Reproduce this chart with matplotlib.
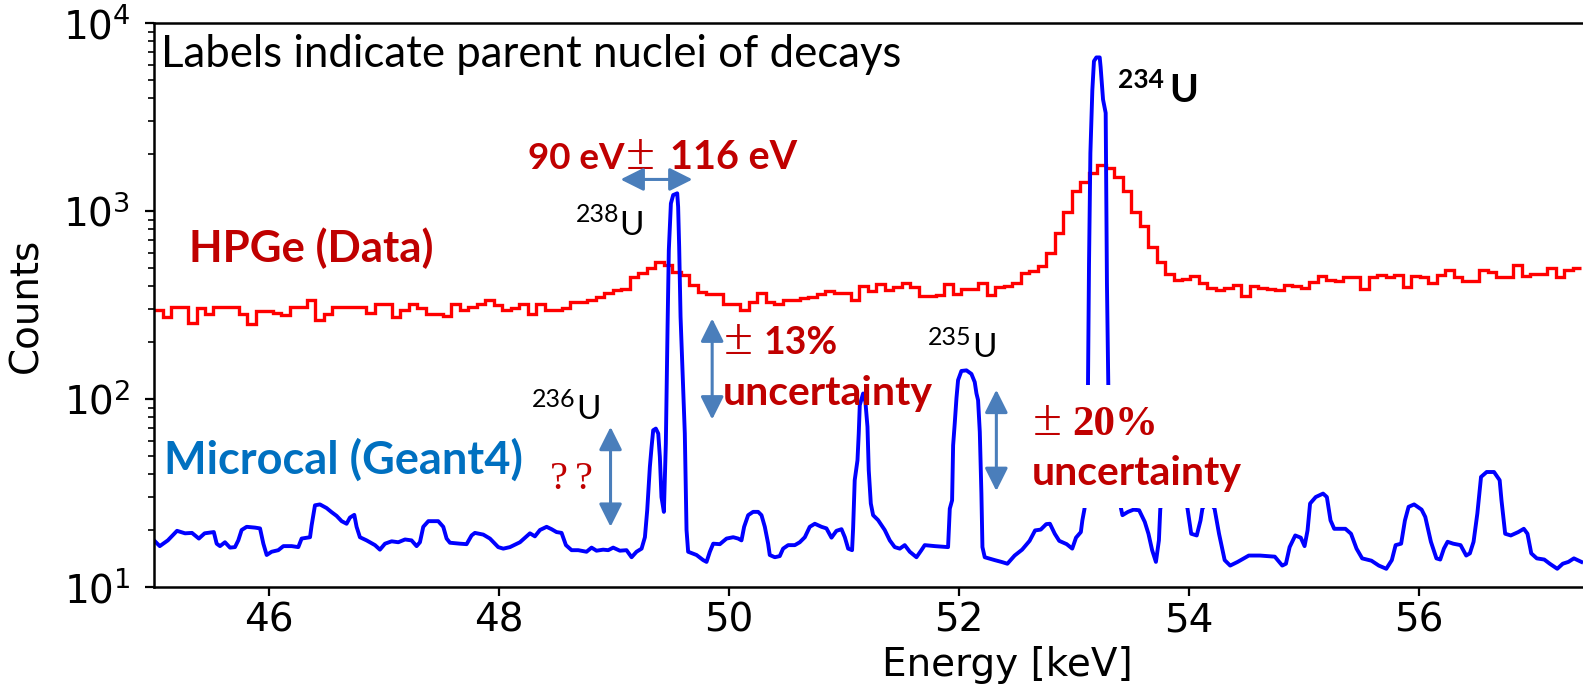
import numpy as np
import matplotlib
matplotlib.use("Agg")
import matplotlib.pyplot as plt
from matplotlib.patches import Rectangle

# HPGe data: step histogram, ~0.074 keV bins starting at 45 keV
hpge_start = 45.0
hpge_width = 0.0739
hpge_counts = [
    297, 272, 309, 309, 254, 303, 283, 307, 307, 309, 283, 250, 294, 294, 287, 279, 307,
    307, 338, 263, 283, 307, 307, 307, 309, 285, 322, 322, 274, 299, 322, 303, 283, 283,
    276, 320, 297, 309, 320, 338, 316, 299, 303, 320, 283, 320, 299, 299, 303, 329, 329,
    336, 350, 367, 379, 387, 447, 466, 495, 537, 515, 475, 456, 403, 369, 364, 364, 320,
    320,
    297, 329, 367, 329, 322, 336, 336, 343, 350, 364, 376, 367, 367, 336, 398, 376, 408,
    379, 395, 412, 395, 352, 352, 357, 408, 364, 387, 387, 412, 357, 392, 398, 412, 466, 480,
    509, 600, 766, 982, 1270, 1429, 1591, 1749, 1684, 1519, 1270, 982, 833, 644, 533, 464,
    428, 436, 449, 412, 390, 379, 390, 403, 355, 397, 390, 385, 379, 403, 397, 390, 417, 449,
    430, 425, 443, 443, 387, 447, 456, 443, 456, 395, 450, 443, 415, 456, 485, 443, 425,
    425, 485, 474, 443, 443, 515, 450, 461, 461, 495, 443, 485, 495,
]

# Microcal (Geant4) simulated spectrum
mc_energy = [
    45.00, 45.05, 45.12, 45.20, 45.27, 45.33, 45.39, 45.44, 45.52, 45.545, 45.574, 45.617,
    45.661, 45.704, 45.733, 45.762, 45.806, 45.878, 45.922, 45.951, 45.98, 46.023, 46.081,
    46.125, 46.197, 46.255, 46.284, 46.357, 46.371, 46.40, 46.443, 46.501, 46.545, 46.588,
    46.632, 46.675, 46.704, 46.742, 46.762, 46.791, 46.849, 46.922, 46.965, 47.009, 47.067,
    47.125, 47.183, 47.24, 47.284, 47.313, 47.342, 47.386, 47.472, 47.516, 47.545, 47.574,
    47.661, 47.719, 47.762, 47.791, 47.864, 47.922, 47.994, 48.038, 48.096, 48.183, 48.27,
    48.313, 48.357, 48.415, 48.458, 48.501, 48.545, 48.583, 48.632, 48.69, 48.762, 48.806,
    48.849, 48.907, 48.951, 48.994, 49.052, 49.11, 49.154, 49.197, 49.241, 49.27, 49.29,
    49.313, 49.328, 49.342, 49.365, 49.386, 49.40, 49.414, 49.435, 49.452, 49.467, 49.478,
    49.496, 49.516, 49.551, 49.559, 49.568, 49.58, 49.617, 49.632, 49.646, 49.719, 49.777,
    49.806, 49.835, 49.864, 49.922, 49.98, 50.038, 50.081, 50.11, 50.133, 50.168, 50.211,
    50.255, 50.284, 50.313, 50.342, 50.356, 50.40, 50.443, 50.472, 50.516, 50.574, 50.617,
    50.661, 50.704, 50.748, 50.806, 50.849, 50.893, 50.936, 50.98, 51.009, 51.038, 51.072,
    51.081, 51.095, 51.119, 51.13, 51.139, 51.168, 51.188, 51.206, 51.217, 51.235, 51.255,
    51.298, 51.356, 51.40, 51.443, 51.487, 51.53, 51.574, 51.632, 51.675, 51.704, 51.791,
    51.907, 51.922, 51.942, 51.951, 51.965, 51.98, 51.994, 52.023, 52.067, 52.11, 52.139,
    52.154, 52.168, 52.183, 52.197, 52.206, 52.226, 52.313, 52.371, 52.423, 52.486, 52.551,
    52.616, 52.664, 52.713, 52.761, 52.793, 52.835, 52.874, 52.939, 52.987, 53.02, 53.062,
    53.075, 53.094, 53.11, 53.124, 53.133, 53.145, 53.162, 53.176, 53.197, 53.226, 53.234,
    53.255, 53.278, 53.289, 53.301, 53.33, 53.39, 53.424, 53.472, 53.521, 53.569, 53.618,
    53.65, 53.682, 53.715, 53.741, 53.753, 53.80, 53.88, 53.96, 53.99, 54.022, 54.07,
    54.103, 54.119, 54.17, 54.225, 54.264, 54.313, 54.361, 54.426, 54.523, 54.62, 54.749,
    54.814, 54.846, 54.878, 54.927, 54.975, 55.008, 55.034, 55.056, 55.105, 55.169, 55.202,
    55.234, 55.266, 55.363, 55.412, 55.46, 55.509, 55.59, 55.654, 55.719, 55.767, 55.80,
    55.848, 55.881, 55.913, 55.961, 56.026, 56.058, 56.107, 56.155, 56.188, 56.22, 56.252,
    56.301, 56.365, 56.414, 56.446, 56.478, 56.511, 56.543, 56.592, 56.656, 56.705, 56.721,
    56.753, 56.802, 56.867, 56.915, 56.947, 56.98, 57.028, 57.093, 57.141, 57.206, 57.254,
    57.303, 57.351, 57.416,
]
mc_counts = [
    17.7, 16.5, 17.7, 19.9, 19.3, 19.4, 18.1, 19.3, 19.6, 17.0, 16.5, 17.3,
    16.2, 16.3, 17.7, 20.1, 20.9, 20.7, 20.5, 17.0, 14.8, 15.4, 15.7,
    16.5, 16.5, 16.3, 18.1, 18.4, 21.3, 27.2, 27.5, 26.3, 25.0, 23.9,
    22.4, 21.7, 23.4, 24.2, 20.9, 18.4, 17.7, 16.7, 15.8, 17.0, 17.5,
    17.3, 17.9, 17.7, 16.5, 17.3, 20.9, 22.4, 22.4, 20.9, 18.1, 17.2,
    17.0, 16.9, 18.8, 19.4, 19.0, 18.1, 16.3, 16.0, 16.3, 17.3, 19.3,
    18.6, 20.1, 20.9, 20.3, 19.6, 19.4, 16.7, 15.7, 15.7, 15.4, 16.2,
    15.6, 15.8, 15.7, 16.2, 15.6, 15.7, 14.4, 15.4, 16.0, 18.4, 25.6,
    43.5, 55.6, 68.2, 69.6, 65.5, 49.2, 30.1, 25.1, 57.9, 242, 620,
    1097, 1216, 1242, 1052, 645, 274, 65.5, 20.1, 15.4, 14.8, 13.9,
    13.6, 15.4, 17.0, 16.9, 18.1, 18.4, 18.1, 17.7, 20.9, 24.1, 25.1,
    25.1, 24.1, 20.9, 17.0, 14.8, 14.4, 14.6, 16.0, 16.7, 16.7, 17.3,
    18.4, 20.9, 21.7, 20.9, 20.5, 18.3, 19.9, 20.3, 18.4, 16.0, 15.7,
    20.5, 37.0, 47.2, 65.5, 92.7, 107, 96.6, 71.1, 41.8, 27.8, 24.1,
    22.7, 20.1, 17.7, 16.3, 16.0, 16.7, 15.4, 14.4, 15.7, 16.7, 16.5,
    16.3, 26.1, 28.9, 56.7, 74.1, 101, 126, 141, 142, 136, 123,
    107, 98.6, 66.8, 31.4, 16.3, 14.4, 13.9, 13.6, 13.3, 14.7, 15.8,
    17.6, 20.0, 20.2, 21.6, 21.7, 19.2, 17.6, 16.9, 16.0, 18.3, 19.6,
    22.6, 26.1, 60, 116, 521, 2031, 4406, 6266, 6560, 6560, 5836,
    3917, 3323, 412, 116, 45, 30, 24.1, 25.1, 25.8, 25.6, 22.2,
    19.2, 15.7, 13.6, 17.7, 26.1, 32, 35, 30, 26.1, 19.2, 18.8,
    22.6, 26.1, 29, 26.1, 19.2, 13.9, 13.0, 13.6, 14.7, 14.7, 14.5,
    13.0, 13.3, 16.3, 18.8, 18.3, 16.5, 20.0, 27.8, 30.1, 31.4, 30.1,
    22.6, 20.4, 20.4, 19.2, 16.0, 14.2, 13.8, 13.0, 12.5, 13.9, 16.7,
    17.0, 22.6, 26.7, 27.5, 25.8, 23.6, 17.4, 14.2, 14.0, 16.0, 17.4,
    17.0, 16.7, 14.7, 15.1, 17.4, 24.6, 38.5, 40.9, 40.9, 37.0, 28.9,
    19.2, 18.8, 19.6, 20.4, 19.2, 15.1, 14.2, 14.0, 13.3, 12.5, 13.3,
    13.6, 14.2, 13.6,
]

DARKRED = "#C00000"
ARROW = "#4A7EBB"
LABEL_FONT = "Lato"

plt.rcParams["font.family"] = "DejaVu Sans"

fig = plt.figure(figsize=(15.83, 6.91), dpi=100)
ax = fig.add_axes([0.0973, 0.1505, 0.9027, 0.8162])

edges = hpge_start + hpge_width * np.arange(len(hpge_counts) + 1)
ax.stairs(hpge_counts, edges, baseline=None, color="red", lw=2.4, zorder=2)
ax.plot(mc_energy, mc_counts, color="blue", lw=2.8, zorder=2)

ax.set_yscale("log")
ax.set_xlim(45, 57.43)
ax.set_ylim(10, 1e4)
ax.set_xticks([46, 48, 50, 52, 54, 56])
ax.spines["right"].set_visible(False)
for s in ["left", "bottom", "top"]:
    ax.spines[s].set_linewidth(1.8)
ax.tick_params(which="major", length=6.5, width=1.6, labelsize=28, pad=4)
ax.tick_params(which="minor", length=4, width=1.2)
ax.tick_params(axis="y", which="major", pad=10.5)
ax.tick_params(axis="x", which="both", top=False)

ax.set_xlabel("Energy [keV]", fontsize=28)
ax.set_ylabel("Counts", fontsize=28)
ax.xaxis.set_label_coords(0.597, -0.105)
ax.yaxis.set_label_coords(-0.076, 0.5)

# white box behind the "20% uncertainty" note (hides part of the blue curve)
ax.add_patch(Rectangle((0.6116, 0.1401), 0.1456, 0.2181, transform=ax.transAxes,
                       facecolor="white", edgecolor="none", zorder=3))

txt = dict(family=LABEL_FONT, zorder=4, va="baseline", ha="left")
serif = dict(family="Liberation Serif", zorder=4, va="baseline", ha="left",
             color=DARKRED)

ax.text(45.065, 5860, "Labels indicate parent nuclei of decays", fontsize=31.5,
        color="black", **txt)
ax.text(45.30, 537, "HPGe (Data)", fontsize=31.5, weight="bold", color=DARKRED, **txt)
ax.text(45.083, 40.1, "Microcal (Geant4)", fontsize=32.5, weight="bold",
        color="#0070C0", **txt)

# resolution note
ax.text(48.25, 1679, "90 eV", fontsize=26.5, weight="bold", color=DARKRED, **txt)
ax.text(49.104, 1679, "±", fontsize=38, **serif)
ax.text(49.49, 1679, "116 eV", fontsize=28.5, weight="bold", color=DARKRED, **txt)

# uncertainty notes
ax.text(49.957, 173, "±", fontsize=38, **serif)
ax.text(50.298, 173, "13%", fontsize=27, weight="bold", color=DARKRED, **txt)
ax.text(49.946, 92.7, "uncertainty", fontsize=29.5, weight="bold", color=DARKRED, **txt)
ax.text(52.641, 64.2, "±", fontsize=38, **serif)
ax.text(52.987, 64.2, "20%", fontsize=31, weight="bold", **serif)
ax.text(52.632, 34.8, "uncertainty", fontsize=29.5, weight="bold", color=DARKRED, **txt)
ax.text(48.44, 33.4, "?", fontsize=29, **serif)
ax.text(48.66, 33.4, "?", fontsize=29, **serif)

# isotope labels
iso = [("238", 48.67, 873, 49.05, 745, "normal", 18, 24),
       ("236", 48.29, 90.8, 48.676, 78.7, "normal", 18, 24),
       ("235", 51.733, 193, 52.116, 167.5, "normal", 18, 24),
       ("234", 53.386, 4493, 53.829, 3810, "bold", 19, 28)]
for mass, xm, ym, xu, yu, w, fs_m, fs_u in iso:
    ax.text(xm, ym, mass, fontsize=fs_m, weight=w, color="black", **txt)
    ax.text(xu, yu, "U", fontsize=fs_u, weight=w, color="black", **txt)

# arrows
arrow = dict(arrowstyle="<|-|>,head_length=0.7,head_width=0.35", color=ARROW,
             lw=2.2, shrinkA=0, shrinkB=0, mutation_scale=20)
ax.annotate("", xy=(49.684, 1472), xytext=(49.058, 1472), arrowprops=arrow, zorder=4)
ax.annotate("", xy=(48.971, 71.1), xytext=(48.971, 20.9), arrowprops=arrow, zorder=4)
ax.annotate("", xy=(49.855, 268), xytext=(49.855, 77.8), arrowprops=arrow, zorder=4)
ax.annotate("", xy=(52.327, 112), xytext=(52.327, 32.4), arrowprops=arrow, zorder=4)

fig.savefig("out.png", dpi=100)
